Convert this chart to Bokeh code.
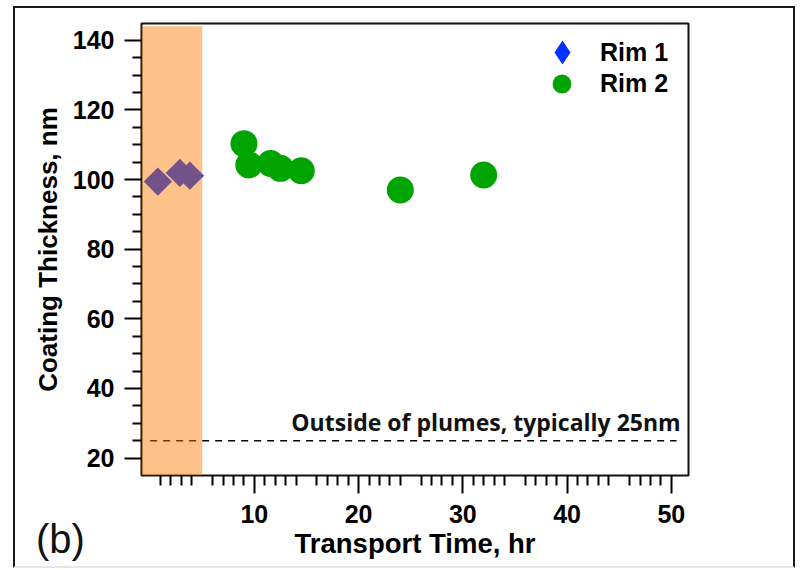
import math
from bokeh.plotting import figure
from bokeh.models import (FixedTicker, LinearAxis, Range1d, BoxAnnotation, Label,
                          Legend, LegendItem, CustomJSTickFormatter, Div)
from bokeh.embed import file_html
from bokeh.resources import INLINE

# ---- data ----
rim1_time = [0.74, 2.85, 3.81]
rim1_thickness = [99.4, 101.9, 101.1]
rim2_time = [9.0, 9.47, 11.55, 12.5, 14.5, 24.0, 32.0]
rim2_thickness = [110.3, 104.2, 104.6, 103.2, 102.5, 97.0, 101.3]

plume_band_end = 5.0          # shaded transport-time window (hr)
plume_band_top = 144.0
outside_level = 25.0          # typical coating outside of plumes (nm)
outside_x = [0.0, 50.5]
outside_text = "Outside of plumes, typically 25nm"
panel_tag = "(b)"

x_major = [10, 20, 30, 40, 50]
x_mid = [5, 15, 25, 35, 45]
x_minor = [i for i in range(1, 51) if i % 5]
y_major = [20, 40, 60, 80, 100, 120, 140]
y_minor = [v for v in range(25, 140, 5) if v % 20]

BLUE = "#0033FF"
GREEN = "#00A400"
ORANGE = "#FA7800"
FONT = "Liberation Sans"

p = figure(width=782, height=562, output_backend="svg", toolbar_location=None,
           x_range=Range1d(-0.83, 51.65), y_range=Range1d(15, 144.8),
           min_border_left=126, min_border_right=109, min_border_top=15,
           min_border_bottom=95,
           styles={"margin-left": "13px", "margin-top": "6px",
                   "border": "2px solid #1a1a1a",
                   "border-bottom": "2px solid #e6e6e6"})
p.grid.visible = False
p.outline_line_color = "#111111"
p.outline_line_width = 2
p.background_fill_color = "white"
p.border_fill_color = "white"

# axes
xa = p.xaxis[0]
xa.ticker = FixedTicker(ticks=x_major, minor_ticks=x_minor)
xa.major_tick_out = 18
xa.major_tick_in = 0
xa.minor_tick_out = 10
xa.minor_tick_in = 0
xa.major_tick_line_width = 2
xa.minor_tick_line_width = 2
xa.axis_line_color = None
xa.major_label_text_font = FONT
xa.major_label_text_font_style = "bold"
xa.major_label_text_font_size = "25px"
xa.major_label_text_color = "black"
xa.major_label_standoff = 11
xa.axis_label = "Transport Time, hr"
xa.axis_label_text_font = FONT
xa.axis_label_text_font_style = "bold"
xa.axis_label_text_font_size = "27.5px"
xa.axis_label_text_color = "black"
xa.axis_label_standoff = 2

ya = p.yaxis[0]
ya.ticker = FixedTicker(ticks=y_major, minor_ticks=y_minor)
ya.major_tick_out = 17
ya.major_tick_in = 0
ya.minor_tick_out = 9
ya.minor_tick_in = 0
ya.major_tick_line_width = 2
ya.minor_tick_line_width = 2
ya.axis_line_color = None
ya.major_label_text_font = FONT
ya.major_label_text_font_style = "bold"
ya.major_label_text_font_size = "25px"
ya.major_label_text_color = "black"
ya.major_label_standoff = 10
ya.axis_label = "Coating Thickness, nm"
ya.axis_label_text_font = FONT
ya.axis_label_text_font_style = "bold"
ya.axis_label_text_font_size = "26px"
ya.axis_label_text_color = "black"
ya.axis_label_standoff = 7

# medium ticks at the 5s (drawn at the bottom edge of the frame)
mid = LinearAxis(ticker=FixedTicker(ticks=x_mid, minor_ticks=[]),
                 fixed_location=15,
                 major_tick_out=0, major_tick_in=14, minor_tick_out=0, minor_tick_in=0,
                 major_tick_line_width=2, axis_line_color=None,
                 formatter=CustomJSTickFormatter(code="return ''"),
                 major_label_text_font_size="1px", major_label_standoff=0)
p.add_layout(mid, "above")

# reference line
p.line(outside_x, [outside_level, outside_level], line_color="black",
       line_width=1.6, line_dash="7 6")
p.add_layout(Label(x=50.9, y=30.4, text=outside_text, text_align="right",
                   text_baseline="alphabetic", text_font="Open Sans",
                   text_font_style="bold", text_font_size="23px",
                   text_color="#111111"))

# legend key for Rim 1 (a diamond, hidden beneath the rotated squares)
r1_key = p.scatter(rim1_time, rim1_thickness, marker="diamond", size=16,
                   fill_color=BLUE, line_color=None)
r1 = p.scatter(rim1_time, rim1_thickness, marker="square", angle=math.pi / 4,
               size=20, fill_color=BLUE, line_color=None)
r2 = p.scatter(rim2_time, rim2_thickness, marker="circle", size=27,
               fill_color=GREEN, line_color=None)

# shaded band drawn over the points
p.add_layout(BoxAnnotation(right=plume_band_end, top=plume_band_top,
                           fill_color=ORANGE, fill_alpha=0.46, line_color=None))

common = dict(padding=0, margin=0, label_text_font=FONT, label_text_font_style="bold",
              label_text_font_size="25px", label_text_color="black",
              background_fill_alpha=0, border_line_color=None)
leg1 = Legend(items=[LegendItem(label="Rim 1", renderers=[r1_key])],
              location=(391, 393), glyph_width=60, glyph_height=60,
              label_standoff=8, **common)
leg2 = Legend(items=[LegendItem(label="Rim 2", renderers=[r2])],
              location=(397, 368), glyph_width=47, glyph_height=47,
              label_standoff=15, **common)
p.add_layout(leg1, "center")
p.add_layout(leg2, "center")

tag = Div(text=panel_tag, styles={"position": "absolute", "left": "31px", "top": "514px",
                                  "font-family": FONT, "font-size": "40px",
                                  "line-height": "1", "color": "#111111"})

open("out.html", "w").write(file_html([p, tag], INLINE))
